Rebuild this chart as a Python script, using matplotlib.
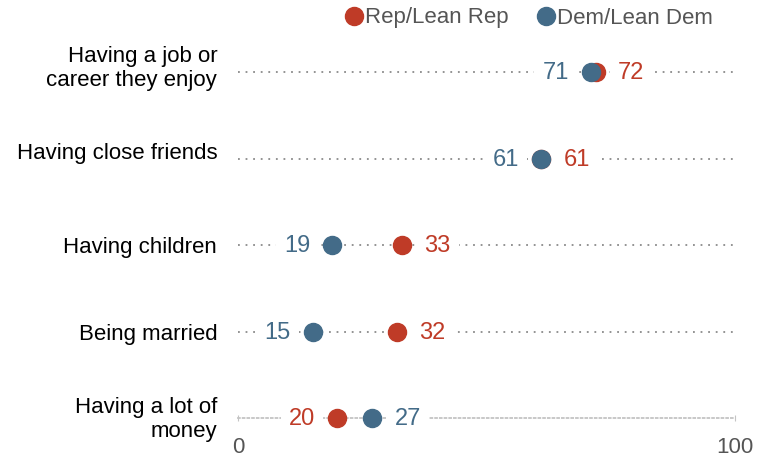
import matplotlib.pyplot as plt
from matplotlib.lines import Line2D
import matplotlib.transforms as mtransforms

plt.rcParams['font.family'] = ['Liberation Sans', 'DejaVu Sans']

categories = ["Having a job or\ncareer they enjoy", "Having close friends",
              "Having children", "Being married", "Having a lot of\nmoney"]
rep = [72, 61, 33, 32, 20]
dem = [71, 61, 19, 15, 27]

rep_color = "#BF3B27"
dem_color = "#436B88"
grey = "#555555"

fig = plt.figure(figsize=(7.63, 4.58), dpi=100)
ax = fig.add_axes([238/763, 1 - 444/458, (735-238)/763, (444-28.75)/458])

ax.set_xlim(0, 100)
ax.set_ylim(4.3, -0.5)
ys = range(len(categories))

# dotted guide lines (last row is the axis line itself)
for y in ys[:-1]:
    ax.plot([0, 100], [y, y], linestyle=(0, (1, 3.2)), color="#8a8a8a", lw=1.3, zorder=1)

ax.spines[['top', 'right', 'left']].set_visible(False)
ax.spines['bottom'].set_position(('data', len(categories) - 1))
ax.spines['bottom'].set_linestyle((0, (1, 1.6)))
ax.spines['bottom'].set_color("#c4c4c4")
ax.spines['bottom'].set_linewidth(1.3)

ax.set_xticks([0, 100])
ax.tick_params(axis='x', length=5, direction='inout', color="#c4c4c4", pad=11,
               labelsize=16, labelcolor=grey)
ax.set_yticks(list(ys))
ax.set_yticklabels(categories, fontsize=16, linespacing=1.2)
ax.tick_params(axis='y', length=0, pad=15)
# the source nudges a few labels up a little
nudge = [8, 8, 0, 0, 3]
for t, dy in zip(ax.get_yticklabels(), nudge):
    t.set_horizontalalignment('right')
    t.set_transform(t.get_transform() + mtransforms.ScaledTranslation(0, dy/100, fig.dpi_scale_trans))

for y, r, d in zip(ys, rep, dem):
    ax.plot(r, y, 'o', color=rep_color, ms=13, zorder=3, clip_on=False)
    ax.plot(d, y, 'o', color=dem_color, ms=13, zorder=4, clip_on=False)
    # value labels on the outside of each pair
    if d <= r:
        left, lc, right, rc = d, dem_color, r, rep_color
    else:
        left, lc, right, rc = r, rep_color, d, dem_color
    box = dict(facecolor='white', edgecolor='none', pad=6)
    ax.annotate(str(left), (left, y), xytext=(-16, -1), textcoords='offset points',
                ha='right', va='center', fontsize=17, color=lc, bbox=box, zorder=5)
    ax.annotate(str(right), (right, y), xytext=(16, -1), textcoords='offset points',
                ha='left', va='center', fontsize=17, color=rc, bbox=box, zorder=5)

handles = [Line2D([], [], marker='o', color=rep_color, ls='none', ms=13),
           Line2D([], [], marker='o', color=dem_color, ls='none', ms=13)]
leg = fig.legend(handles, ["Rep/Lean Rep", "Dem/Lean Dem"], ncol=2, frameon=False,
                 loc='center', bbox_to_anchor=(528/763, 1 - 18/458), fontsize=16,
                 handletextpad=0.0, columnspacing=1.2, handlelength=1.0,
                 borderpad=0)
for t in leg.get_texts():
    t.set_color(grey)

fig.savefig("out.png", dpi=100)
